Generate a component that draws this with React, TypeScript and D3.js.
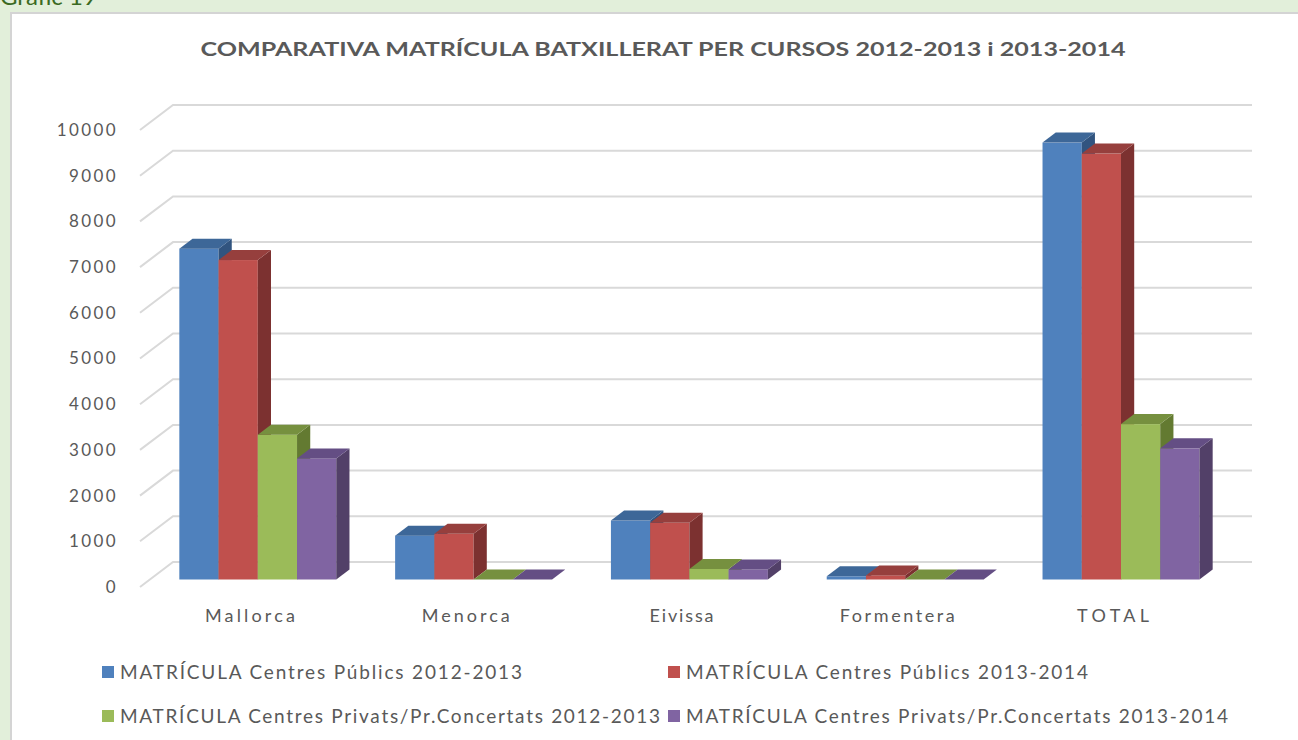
import React, { useRef, useEffect } from "react";
import * as d3 from "d3";

const categories = ["Mallorca", "Menorca", "Eivissa", "Formentera", "TOTAL"];
const seriesNames = [
  "MATRÍCULA Centres Públics 2012-2013",
  "MATRÍCULA Centres Públics 2013-2014",
  "MATRÍCULA Centres Privats/Pr.Concertats 2012-2013",
  "MATRÍCULA Centres Privats/Pr.Concertats 2013-2014",
];
const publics2012 = [7240, 960, 1290, 70, 9560];
const publics2013 = [6990, 1000, 1240, 90, 9320];
const privats2012 = [3170, 0, 230, 0, 3400];
const privats2013 = [2650, 0, 220, 0, 2870];
const yTicks = [0, 1000, 2000, 3000, 4000, 5000, 6000, 7000, 8000, 9000, 10000];

const FRONT = ["#4f81bd", "#c0504d", "#9bbb59", "#8064a2"];
const TOP = ["#3d6798", "#963f3d", "#76903f", "#644e84"];
const SIDE = ["#31547f", "#7c3130", "#637a31", "#524068"];

// widths of the label texts as drawn in the reference (the original font runs wide)
const catLabelWidths = [90, 88, 64, 115, 72];
const legendWidths = [402, 402, 540, 542];

const FONT = "Lato, 'Open Sans', sans-serif";

export default function App() {
  const ref = useRef<SVGSVGElement | null>(null);

  useEffect(() => {
    const svg = ref.current;
    if (!svg) return;
    const W = 1298;
    const H = 740;
    const sel = d3.select(svg);
    sel.selectAll("*").remove();

    // page + chart frame
    sel.append("rect").attr("width", W).attr("height", H).attr("fill", "#e2efda");
    sel
      .append("text")
      .attr("x", 0)
      .attr("y", 5)
      .attr("font-family", FONT)
      .attr("font-size", 24)
      .attr("fill", "#3b6a22")
      .text("Gràfic 19");
    sel
      .append("rect")
      .attr("x", 11)
      .attr("y", 13)
      .attr("width", W)
      .attr("height", H)
      .attr("fill", "#fff")
      .attr("stroke", "#d4d4d4")
      .attr("stroke-width", 2);

    sel
      .append("text")
      .attr("x", 663)
      .attr("y", 56)
      .attr("text-anchor", "middle")
      .attr("font-family", FONT)
      .attr("font-weight", "bold")
      .attr("font-size", 18)
      .attr("fill", "#595959")
      .attr("textLength", 925)
      .attr("lengthAdjust", "spacingAndGlyphs")
      .text("COMPARATIVA MATRÍCULA BATXILLERAT PER CURSOS 2012-2013 i 2013-2014");

    // 3D projection: depth 0 = front, 1 = back wall
    const DX = 33;
    const DY = -25;
    const x0 = 140;
    const x1 = 1219;
    const y = d3.scaleLinear().domain([0, 10000]).range([587, 130]);
    const xc = d3.scaleBand().domain(categories).range([x0, x1]);
    const xs = d3
      .scaleBand()
      .domain(seriesNames)
      .range([0, xc.bandwidth()])
      .paddingInner(0)
      .paddingOuter(0.75);

    const grid = sel.append("g");
    yTicks.forEach((t) => {
      const yy = y(t);
      grid
        .append("polyline")
        .attr("points", `${x0},${yy} ${x0 + DX},${yy + DY} ${x1 + DX},${yy + DY}`)
        .attr("fill", "none")
        .attr("stroke", "#d9d9d9")
        .attr("stroke-width", 2);
      grid
        .append("text")
        .attr("x", 118)
        .attr("y", yy)
        .attr("dy", "0.35em")
        .attr("text-anchor", "end")
        .attr("font-family", FONT)
        .attr("font-size", 17)
        .attr("letter-spacing", 2.4)
        .attr("fill", "#595959")
        .text(String(t));
    });

    const allSeries = [publics2012, publics2013, privats2012, privats2013];
    const dF = 0.3;
    const dB = 0.7;
    const bars = sel.append("g");
    categories.forEach((c, ci) => {
      allSeries.forEach((vals, si) => {
        const v = vals[ci];
        const bx = (xc(c) as number) + (xs(seriesNames[si]) as number) + DX * dF;
        const bw = xs.bandwidth();
        const base = y(0) + DY * dF;
        const top = y(v) + DY * dF;
        const ddx = DX * (dB - dF);
        const ddy = DY * (dB - dF);
        // front
        bars
          .append("rect")
          .attr("x", bx)
          .attr("y", top)
          .attr("width", bw)
          .attr("height", Math.max(0, base - top))
          .attr("fill", FRONT[si]);
        // side
        bars
          .append("polygon")
          .attr(
            "points",
            `${bx + bw},${top} ${bx + bw + ddx},${top + ddy} ${bx + bw + ddx},${base + ddy} ${bx + bw},${base}`
          )
          .attr("fill", SIDE[si]);
        // top
        bars
          .append("polygon")
          .attr(
            "points",
            `${bx},${top} ${bx + bw},${top} ${bx + bw + ddx},${top + ddy} ${bx + ddx},${top + ddy}`
          )
          .attr("fill", TOP[si]);
      });
      sel
        .append("text")
        .attr("x", (xc(c) as number) + xc.bandwidth() / 2 + 2)
        .attr("y", 622)
        .attr("text-anchor", "middle")
        .attr("font-family", FONT)
        .attr("font-size", 18)
        .attr("fill", "#595959")
        .attr("textLength", catLabelWidths[ci])
        .attr("lengthAdjust", "spacing")
        .text(c);
    });

    // legend
    const legX = [102, 668];
    const legY = [672, 716];
    seriesNames.forEach((s, i) => {
      const lx = legX[i % 2];
      const ly = legY[Math.floor(i / 2)];
      sel
        .append("rect")
        .attr("x", lx)
        .attr("y", ly - 6)
        .attr("width", 12)
        .attr("height", 12)
        .attr("fill", FRONT[i]);
      sel
        .append("text")
        .attr("x", lx + 18)
        .attr("y", ly)
        .attr("dy", "0.35em")
        .attr("font-family", FONT)
        .attr("font-size", 19)
        .attr("fill", "#595959")
        .attr("textLength", legendWidths[i])
        .attr("lengthAdjust", "spacing")
        .text(s);
    });
  }, []);

  return (
    <svg
      ref={ref}
      width={1298}
      height={740}
      style={{ position: "absolute", left: 0, top: 0, display: "block" }}
    />
  );
}
